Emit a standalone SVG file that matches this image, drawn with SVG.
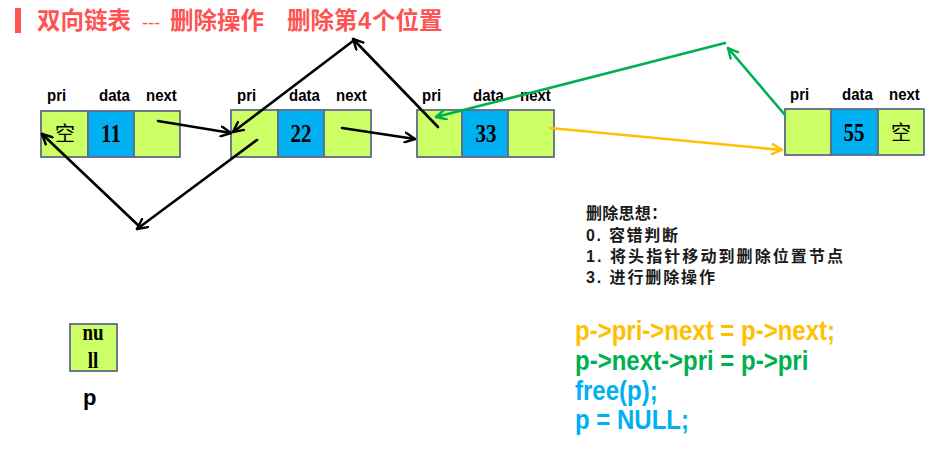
<svg xmlns="http://www.w3.org/2000/svg" width="936" height="461" viewBox="0 0 936 461">
<style>
  .lbl { font-family: "Liberation Sans", Arial, sans-serif; font-weight: bold; font-size: 15px; fill: #000; }
  .num { font-family: "Liberation Serif", "Times New Roman", serif; font-weight: bold; font-size: 21px; fill: #000; text-anchor: middle; }
  .cjk { font-family: "Noto Sans CJK SC", sans-serif; font-size: 20px; fill: #000; text-anchor: middle; }
  .g { fill: #CCFF66; stroke: #5F6B86; stroke-width: 1.8; }
  .b { fill: #00B0F0; stroke: #5F6B86; stroke-width: 1.8; }
  .title { font-family: "Liberation Sans", "Noto Sans CJK SC", sans-serif; font-weight: bold; font-size: 23.5px; fill: #FF5353; }
  .note { font-family: "Liberation Sans", "Noto Sans CJK SC", sans-serif; font-weight: bold; font-size: 16px; fill: #1a1a1a; }
  .code { font-family: "Liberation Sans", Arial, sans-serif; font-weight: bold; font-size: 24px; }
  .ak { fill: none; stroke: #000; stroke-width: 2.6; stroke-linecap: round; }
  .ag { fill: none; stroke: #00B050; stroke-width: 2.6; stroke-linecap: round; }
  .ay { fill: none; stroke: #FFC000; stroke-width: 2.6; stroke-linecap: round; }
</style>
<defs>
  <marker id="mk" viewBox="0 0 12 12" refX="11" refY="6" markerWidth="12" markerHeight="12" markerUnits="userSpaceOnUse" orient="auto">
    <path d="M1,1 L11,6 L1,11" fill="none" stroke="#000" stroke-width="2.4" stroke-linecap="round" stroke-linejoin="round"/>
  </marker>
  <marker id="mg" viewBox="0 0 12 12" refX="11" refY="6" markerWidth="12" markerHeight="12" markerUnits="userSpaceOnUse" orient="auto">
    <path d="M1,1 L11,6 L1,11" fill="none" stroke="#00B050" stroke-width="2.4" stroke-linecap="round" stroke-linejoin="round"/>
  </marker>
  <marker id="my" viewBox="0 0 12 12" refX="11" refY="6" markerWidth="12" markerHeight="12" markerUnits="userSpaceOnUse" orient="auto">
    <path d="M1,1 L11,6 L1,11" fill="none" stroke="#FFC000" stroke-width="2.4" stroke-linecap="round" stroke-linejoin="round"/>
  </marker>
</defs>
<rect width="936" height="461" fill="#fff"/>

<g id="title">
  <rect x="15" y="8" width="6" height="25" fill="#FF5353"/>
  <text class="title" y="29">
    <tspan x="37">双向链表</tspan>
    <tspan x="142" style="font-weight:normal;font-size:18px">---</tspan>
    <tspan x="170">删除操作</tspan>
    <tspan x="287">删除第</tspan>
    <tspan x="358">4</tspan>
    <tspan x="372">个位置</tspan>
  </text>
</g>

<g id="node1">
  <rect class="g" x="41" y="111" width="47" height="46"/>
  <rect class="b" x="88" y="111" width="46" height="46"/>
  <rect class="g" x="134" y="111" width="46" height="46"/>
  <text class="lbl" transform="translate(47,101) scale(1,1.1)">pri</text>
  <text class="lbl" transform="translate(99,101) scale(1,1.1)">data</text>
  <text class="lbl" transform="translate(146,101) scale(1,1.1)">next</text>
  <text class="cjk" x="65" y="141">空</text>
  <text class="num" transform="translate(111,142) scale(1,1.2)">11</text>
</g>

<g id="node2">
  <rect class="g" x="231" y="110" width="47" height="47"/>
  <rect class="b" x="278" y="110" width="46" height="47"/>
  <rect class="g" x="324" y="110" width="47" height="47"/>
  <text class="lbl" transform="translate(237,101) scale(1,1.1)">pri</text>
  <text class="lbl" transform="translate(289,101) scale(1,1.1)">data</text>
  <text class="lbl" transform="translate(336,101) scale(1,1.1)">next</text>
  <text class="num" transform="translate(301,142) scale(1,1.2)">22</text>
</g>

<g id="node3">
  <rect class="g" x="417" y="110" width="45" height="47"/>
  <rect class="b" x="462" y="110" width="46" height="47"/>
  <rect class="g" x="508" y="110" width="46" height="47"/>
  <text class="lbl" transform="translate(422,101) scale(1,1.1)">pri</text>
  <text class="lbl" transform="translate(473,101) scale(1,1.1)">data</text>
  <text class="lbl" transform="translate(520,101) scale(1,1.1)">next</text>
  <text class="num" transform="translate(486,142) scale(1,1.2)">33</text>
</g>

<g id="node4">
  <rect class="g" x="785" y="109" width="46" height="46"/>
  <rect class="b" x="831" y="109" width="47" height="46"/>
  <rect class="g" x="878" y="109" width="46" height="46"/>
  <text class="lbl" transform="translate(790,100) scale(1,1.1)">pri</text>
  <text class="lbl" transform="translate(842,100) scale(1,1.1)">data</text>
  <text class="lbl" transform="translate(889,100) scale(1,1.1)">next</text>
  <text class="num" transform="translate(854,141) scale(1,1.2)">55</text>
  <text class="cjk" x="901" y="140">空</text>
</g>

<g id="nullnode">
  <rect class="g" x="70" y="324" width="47" height="47"/>
  <text class="num" style="font-size:19px" transform="translate(93,340) scale(1,1.2)">nu</text>
  <text class="num" style="font-size:19px" transform="translate(93,368) scale(1,1.2)">ll</text>
  <text class="lbl" style="font-size:22px" x="83" y="405">p</text>
</g>

<g id="connectors">
  <line class="ak" x1="158" y1="121" x2="231" y2="133" marker-end="url(#mk)"/>
  <line class="ak" x1="342" y1="128" x2="415" y2="139" marker-end="url(#mk)"/>
  <line class="ak" x1="438" y1="127" x2="353" y2="39" marker-end="url(#mk)"/>
  <line class="ak" x1="353" y1="41" x2="233" y2="132" marker-end="url(#mk)"/>
  <line class="ak" x1="257" y1="140" x2="137" y2="229" marker-end="url(#mk)"/>
  <line class="ak" x1="140" y1="227" x2="42" y2="134" marker-end="url(#mk)"/>
  <line class="ag" x1="785" y1="115" x2="728" y2="48" marker-end="url(#mg)"/>
  <line class="ag" x1="725" y1="43" x2="436" y2="117" marker-end="url(#mg)"/>
  <line class="ay" x1="550" y1="128" x2="782" y2="150" marker-end="url(#my)"/>
</g>

<g id="notes">
  <text class="note" x="586" y="219" textLength="81" lengthAdjust="spacing">删除思想：</text>
  <text class="note" x="586" y="241" textLength="92" lengthAdjust="spacing">0. 容错判断</text>
  <text class="note" x="586" y="262" textLength="257" lengthAdjust="spacing">1. 将头指针移动到删除位置节点</text>
  <text class="note" x="586" y="283" textLength="129" lengthAdjust="spacing">3. 进行删除操作</text>
</g>

<g id="code">
  <text class="code" fill="#FFC000" transform="translate(575,340) scale(1,1.15)">p-&gt;pri-&gt;next = p-&gt;next;</text>
  <text class="code" fill="#00B050" transform="translate(575,370) scale(1,1.15)">p-&gt;next-&gt;pri = p-&gt;pri</text>
  <text class="code" fill="#00B0F0" transform="translate(575,400) scale(1,1.15)">free(p);</text>
  <text class="code" fill="#00B0F0" transform="translate(575,429) scale(1,1.15)">p = NULL;</text>
</g>
</svg>
